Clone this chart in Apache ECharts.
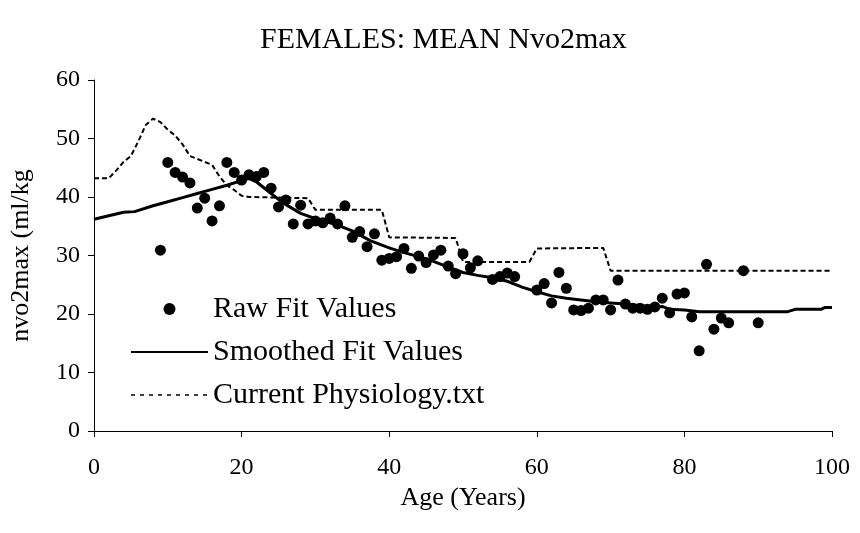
<!DOCTYPE html>
<html>
<head>
<meta charset="utf-8">
<script src="https://cdn.jsdelivr.net/npm/echarts@6/dist/echarts.min.js"></script>
<style>
html,body{margin:0;padding:0;background:#fff;}
#chart{width:860px;height:533px;}
</style>
</head>
<body>
<div id="chart"></div>
<script>
// Raw fit values: [age, value]
const rawFit = [
  [9,30.9],[10,45.9],[11,44.2],[12,43.4],[13,42.4],[14,38.1],[15,39.8],[16,35.9],[17,38.5],
  [18,45.9],[19,44.2],[20,42.9],[21,43.8],[22,43.5],[23,44.2],[24,41.5],[25,38.3],[26,39.5],
  [27,35.4],[28,38.6],[29,35.4],[30,35.9],[31,35.6],[32,36.4],[33,35.4],[34,38.5],[35,33.1],
  [36,34.1],[37,31.5],[38,33.7],[39,29.2],[40,29.5],[41,29.8],[42,31.2],[43,27.8],[44,29.9],
  [45,28.8],[46,30.1],[47,30.9],[48,28.2],[49,26.9],[50,30.3],[51,27.9],[52,29.1],[54,25.9],
  [55,26.4],[56,27.0],[57,26.4],[60,24.1],[61,25.2],[62,21.9],[63,27.1],[64,24.4],[65,20.7],
  [66,20.6],[67,21.0],[68,22.4],[69,22.4],[70,20.7],[71,25.8],[72,21.7],[73,21.0],[74,21.0],
  [75,20.8],[76,21.2],[77,22.7],[78,20.2],[79,23.4],[80,23.6],[81,19.5],[82,13.7],[83,28.5],
  [84,17.4],[85,19.3],[86,18.5],[88,27.4],[90,18.5]
];
// Smoothed fit values: [age, value]
const smoothedFit = [
  [0,36.2],[2,36.8],[4,37.4],[5.5,37.5],[8,38.5],[10,39.2],[12,39.9],[14,40.6],[16,41.3],
  [18,42.0],[20,42.8],[21,43.2],[22,42.6],[24,40.6],[25,39.6],[26,38.7],[28,37.2],[30,36.3],
  [33,35.2],[35,34.2],[37.5,32.5],[40,31.3],[42,30.5],[44,29.8],[46,29.0],[48,28.0],[50,27.1],
  [52,26.6],[54,26.2],[56,25.6],[58,24.6],[60,23.8],[62,23.1],[64,22.7],[66,22.4],[68,22.1],
  [70,21.9],[72,21.7],[74,21.4],[76,21.2],[77,21.3],[78,20.8],[80,20.7],[82,20.4],[94,20.4],
  [95,20.8],[98.5,20.8],[99,21.1],[100,21.1]
];
// Current Physiology.txt: [age, value]
const currentPhysiology = [
  [0,43.2],[2,43.2],[3,44.5],[4,46.0],[5,47.0],[6,49.5],[7,52.3],[8,53.4],[9,52.8],[10,51.5],
  [11,50.5],[12,49.0],[13,47.0],[14,46.5],[15,46.0],[16,45.5],[17,43.5],[18,42.0],[19,41.2],
  [20,40.2],[21,40.0],[29,39.8],[30,37.8],[39,37.8],[40,33.1],[49,33.0],[50,28.9],[59,28.9],
  [60,31.2],[69,31.3],[70,27.4],[100,27.4]
];
const xTicks = [0,20,40,60,80,100];
const yTicks = [0,10,20,30,40,50,60];

const FONT = 'Liberation Serif';
const chart = echarts.init(document.getElementById('chart'));
chart.setOption({
  backgroundColor: '#ffffff',
  animation: false,
  title: {
    text: 'FEMALES: MEAN Nvo2max',
    left: 260, top: 25, padding: 0,
    textStyle: {fontFamily: FONT, fontSize: 30, fontWeight: 'normal', color: '#000'}
  },
  legend: {
    orient: 'vertical',
    left: 130, top: 294, padding: 0,
    itemWidth: 77, itemHeight: 12, itemGap: 13,
    textStyle: {fontFamily: FONT, fontSize: 30, color: '#000'},
    data: [
      {name: 'Raw Fit Values'},
      {name: 'Smoothed Fit Values', itemStyle: {opacity: 0}},
      {name: 'Current Physiology.txt', itemStyle: {opacity: 0}, lineStyle: {width: 1.5, type: [4, 5]}}
    ]
  },
  grid: {left: 93, right: 28, top: 80, bottom: 102},
  xAxis: {
    type: 'value', min: xTicks[0], max: xTicks[xTicks.length-1], interval: 20,
    name: 'Age (Years)', nameLocation: 'middle', nameGap: 44,
    nameTextStyle: {fontFamily: FONT, fontSize: 26, color: '#000'},
    axisLine: {show: true, onZero: false, lineStyle: {color: '#000', width: 1}},
    axisTick: {show: true, length: 6, lineStyle: {color: '#000'}},
    axisLabel: {fontFamily: FONT, fontSize: 24, color: '#000', margin: 25},
    splitLine: {show: false}
  },
  yAxis: {
    type: 'value', min: yTicks[0], max: yTicks[yTicks.length-1], interval: 10,
    name: 'nvo2max (ml/kg', nameLocation: 'middle', nameGap: 60, nameRotate: 90,
    nameTextStyle: {fontFamily: FONT, fontSize: 26, color: '#000'},
    axisLine: {show: true, lineStyle: {color: '#000', width: 1}},
    axisTick: {show: true, length: 6, lineStyle: {color: '#000'}},
    axisLabel: {fontFamily: FONT, fontSize: 24, color: '#000', margin: 14},
    splitLine: {show: false}
  },
  series: [
    {
      name: 'Raw Fit Values', type: 'scatter', data: rawFit,
      symbol: 'circle', symbolSize: 11,
      itemStyle: {color: '#000', opacity: 1}, z: 3
    },
    {
      name: 'Smoothed Fit Values', type: 'line', data: smoothedFit,
      showSymbol: false, symbol: 'none',
      lineStyle: {color: '#000', width: 3}, itemStyle: {color: '#000'}, z: 2
    },
    {
      name: 'Current Physiology.txt', type: 'line', data: currentPhysiology,
      showSymbol: false, symbol: 'none',
      lineStyle: {color: '#000', width: 2, type: [5, 3]}, itemStyle: {color: '#000'}, z: 1
    }
  ]
});
</script>
</body>
</html>
